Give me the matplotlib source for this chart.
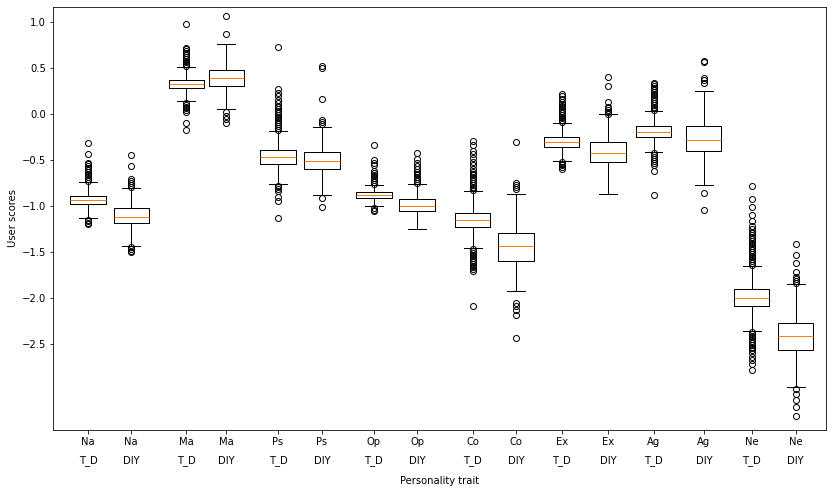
import matplotlib
matplotlib.use("Agg")
import matplotlib.pyplot as plt
import matplotlib.transforms as mtransforms

# trait names and the two sources for each box
traits = ["Na", "Na", "Ma", "Ma", "Ps", "Ps", "Op", "Op",
          "Co", "Co", "Ex", "Ex", "Ag", "Ag", "Ne", "Ne"]
groups = ["T_D", "DIY"] * 8

# box statistics
medians = [-0.938, -1.116, 0.323, 0.391, -0.471, -0.511, -0.884, -1.003,
           -1.152, -1.435, -0.308, -0.427, -0.196, -0.286, -2.003, -2.413]
q1 = [-0.982, -1.188, 0.279, 0.304, -0.547, -0.601, -0.916, -1.054,
      -1.231, -1.601, -0.362, -0.525, -0.253, -0.405, -2.090, -2.568]
q3 = [-0.895, -1.025, 0.366, 0.475, -0.395, -0.416, -0.848, -0.927,
      -1.079, -1.297, -0.253, -0.308, -0.134, -0.134, -1.905, -2.275]
whislo = [-1.134, -1.435, 0.138, 0.051, -0.764, -0.884, -1.007, -1.250,
          -1.460, -1.931, -0.511, -0.873, -0.416, -0.775, -2.362, -2.971]
whishi = [-0.743, -0.808, 0.511, 0.758, -0.181, -0.145, -0.772, -0.761,
          -0.844, -0.873, -0.101, -0.003, 0.029, 0.247, -1.649, -1.851]

# outliers
fliers = [
    [-0.73, -0.71, -0.69, -0.67, -0.65, -0.63, -0.61, -0.59, -0.57, -0.55, -0.53, -0.44, -0.32,
     -1.15, -1.17, -1.19, -1.20],
    [-0.79, -0.77, -0.75, -0.73, -0.71, -0.565, -0.45,
     -1.45, -1.47, -1.49, -1.50],
    [0.52, 0.54, 0.56, 0.58, 0.60, 0.62, 0.64, 0.66, 0.68, 0.70, 0.72, 0.975,
     0.12, 0.10, 0.08, 0.06, 0.04, 0.02, -0.10, -0.17],
    [0.87, 1.065, 0.025, -0.02, -0.06, -0.10],
    [-0.17, -0.15, -0.13, -0.11, -0.09, -0.07, -0.05, -0.03, -0.01, 0.01, 0.03, 0.05, 0.07,
     0.09, 0.12, 0.15, 0.19, 0.23, 0.27, 0.725,
     -0.78, -0.80, -0.82, -0.84, -0.90, -0.95, -1.13],
    [-0.07, -0.09, -0.11, 0.16, 0.50, 0.52, -0.92, -1.01],
    [-0.76, -0.74, -0.72, -0.70, -0.68, -0.66, -0.64, -0.62, -0.555, -0.53, -0.50, -0.34,
     -1.02, -1.04, -1.06],
    [-0.75, -0.73, -0.71, -0.69, -0.67, -0.65, -0.63, -0.60, -0.57, -0.53, -0.49, -0.43],
    [-0.83, -0.81, -0.79, -0.77, -0.75, -0.73, -0.71, -0.69, -0.67, -0.65, -0.63, -0.60,
     -0.56, -0.52, -0.48, -0.44, -0.40, -0.34, -0.30,
     -1.47, -1.49, -1.51, -1.53, -1.55, -1.57, -1.59, -1.61, -1.63, -1.65, -1.67, -1.69,
     -1.71, -2.09],
    [-0.75, -0.77, -0.79, -0.82, -0.31, -2.06, -2.09, -2.13, -2.19, -2.44],
    [-0.09, -0.07, -0.05, -0.03, -0.01, 0.01, 0.03, 0.05, 0.07, 0.09, 0.11, 0.13, 0.16,
     0.19, 0.22, -0.52, -0.54, -0.56, -0.58, -0.60],
    [0.0, 0.02, 0.04, 0.06, 0.08, 0.13, 0.30, 0.405],
    [0.04, 0.06, 0.08, 0.10, 0.12, 0.14, 0.16, 0.18, 0.20, 0.22, 0.24, 0.26, 0.28, 0.30,
     0.32, 0.34, -0.43, -0.45, -0.47, -0.49, -0.51, -0.53, -0.56, -0.62, -0.88],
    [0.34, 0.37, 0.39, 0.56, 0.58, -0.86, -1.04],
    [-1.64, -1.62, -1.60, -1.58, -1.56, -1.54, -1.52, -1.50, -1.48, -1.46, -1.44, -1.42,
     -1.40, -1.38, -1.36, -1.34, -1.32, -1.30, -1.28, -1.25, -1.22, -1.16, -1.10, -1.01,
     -0.93, -0.78,
     -2.37, -2.39, -2.41, -2.43, -2.45, -2.47, -2.49, -2.51, -2.53, -2.55, -2.57, -2.60,
     -2.64, -2.68, -2.72, -2.78],
    [-1.84, -1.82, -1.80, -1.77, -1.715, -1.62, -1.53, -1.41,
     -2.99, -3.05, -3.11, -3.19, -3.29],
]

yticks = [-2.5, -2.0, -1.5, -1.0, -0.5, 0.0, 0.5, 1.0]

# box positions (layout only)
positions = [1.0, 1.98, 3.23, 4.14, 5.32, 6.32, 7.5, 8.48,
             9.75, 10.73, 11.77, 12.82, 13.86, 15.0, 16.09, 17.09]

stats = []
for i in range(len(traits)):
    stats.append({
        "med": medians[i], "q1": q1[i], "q3": q3[i],
        "whislo": whislo[i], "whishi": whishi[i], "fliers": fliers[i],
    })

DPI = 72
fig = plt.figure(figsize=(834 / DPI, 494 / DPI), dpi=DPI)
ax = fig.add_axes([0.0636, 0.130, 0.9264, 0.856])

ax.bxp(stats, positions=positions, widths=0.8)

ax.set_xlim(0.205, 17.77)
ax.set_ylim(-3.435, 1.163)
ax.set_yticks(yticks)
ax.set_xticks(positions)
ax.set_xticklabels(traits)

# second row of labels under the traits
trans = mtransforms.blended_transform_factory(ax.transData, ax.transAxes)
offset = mtransforms.ScaledTranslation(0, -31 / DPI, fig.dpi_scale_trans)
for p, g in zip(positions, groups):
    ax.text(p, 0, g, transform=trans + offset, ha="center", va="center", fontsize=10)

ax.set_ylabel("User scores")
ax.set_xlabel("Personality trait", labelpad=29)

fig.savefig("out.png", dpi=DPI)
